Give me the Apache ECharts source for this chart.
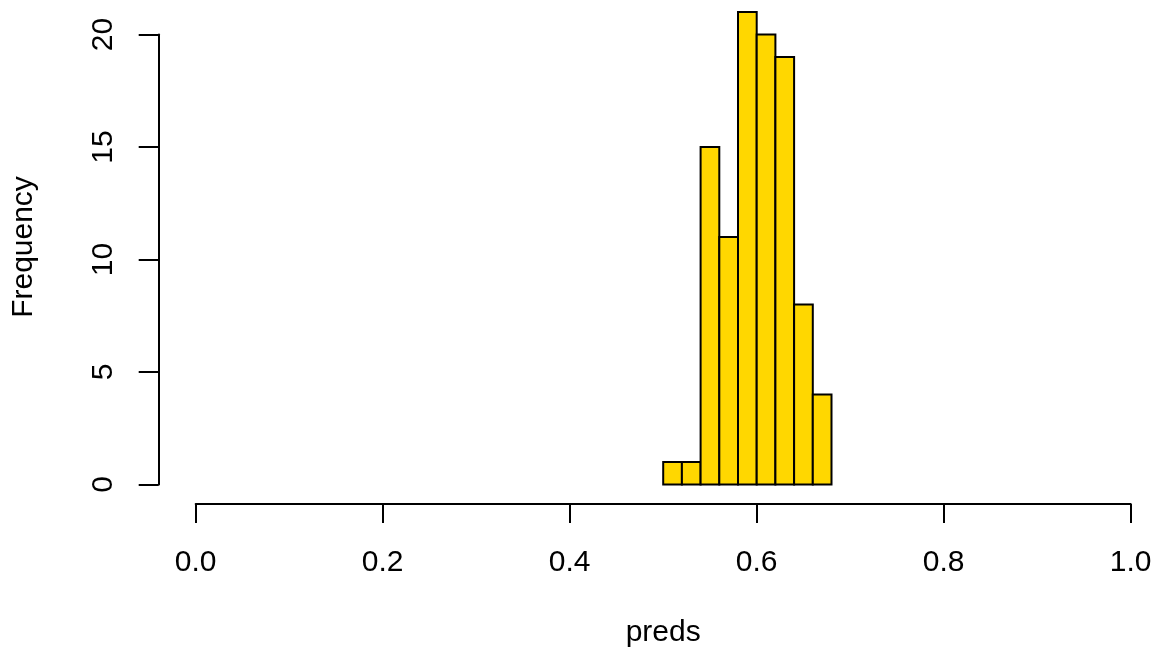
<!DOCTYPE html>
<html>
<head>
<meta charset="utf-8">
<script src="https://cdn.jsdelivr.net/npm/echarts@6/dist/echarts.min.js"></script>
<style>
html,body{margin:0;padding:0;background:#fff;}
#chart{width:1158px;height:656px;}
</style>
</head>
<body>
<div id="chart"></div>
<script>
const binStarts = [0.50, 0.52, 0.54, 0.56, 0.58, 0.60, 0.62, 0.64, 0.66];
const binWidth = 0.02;
const counts = [1, 1, 15, 11, 21, 20, 19, 8, 4];
const xTicks = [0.0, 0.2, 0.4, 0.6, 0.8, 1.0];
const yTicks = [0, 5, 10, 15, 20];

const FONT = 'Liberation Sans, Arial, Helvetica, sans-serif';
const FS = 30;

const chart = echarts.init(document.getElementById('chart'), null, {renderer: 'canvas'});
const data = binStarts.map((s, i) => [s, s + binWidth, counts[i]]);

chart.setOption({
  animation: false,
  backgroundColor: '#ffffff',
  grid: {left: 195.7, right: 27.3, top: 34.5, bottom: 171.5, containLabel: false},
  xAxis: {
    type: 'value', min: 0, max: 1, interval: 0.2,
    offset: 19.5,
    axisLine: {show: true, onZero: false, lineStyle: {color: '#000', width: 2}},
    axisTick: {show: true, length: 19, lineStyle: {color: '#000', width: 2}},
    splitLine: {show: false},
    axisLabel: {
      margin: 44, color: '#000', fontFamily: FONT, fontSize: FS,
      formatter: v => v.toFixed(1)
    },
    name: 'preds', nameLocation: 'middle', nameGap: 114,
    nameTextStyle: {color: '#000', fontFamily: FONT, fontSize: FS}
  },
  yAxis: {
    type: 'value', min: 0, max: 20, interval: 5,
    offset: 37,
    axisLine: {show: true, onZero: false, lineStyle: {color: '#000', width: 2}},
    axisTick: {show: true, length: 20, lineStyle: {color: '#000', width: 2}},
    splitLine: {show: false},
    axisLabel: {margin: 40, rotate: 90, color: '#000', fontFamily: FONT, fontSize: FS}
  },
  graphic: [{
    type: 'text', x: 24, y: 247, rotation: Math.PI / 2,
    style: {text: 'Frequency', font: FS + 'px ' + FONT, align: 'center', verticalAlign: 'middle', fill: '#000'}
  }],
  series: [{
    type: 'custom',
    clip: false,
    data: data,
    renderItem: function (params, api) {
      const p0 = api.coord([api.value(0), 0]);
      const p1 = api.coord([api.value(1), api.value(2)]);
      return {
        type: 'rect',
        shape: {x: p0[0], y: p1[1], width: p1[0] - p0[0], height: p0[1] - p1[1]},
        style: {fill: '#FFD700', stroke: '#000', lineWidth: 2}
      };
    }
  }]
});
</script>
</body>
</html>
